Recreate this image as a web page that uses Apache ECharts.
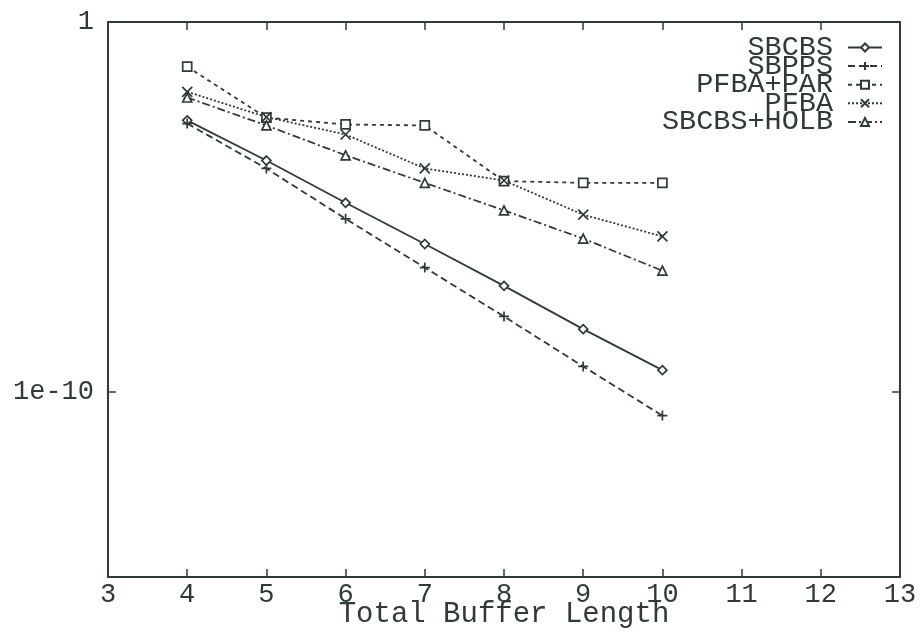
<!DOCTYPE html>
<html>
<head>
<meta charset="utf-8">
<script src="https://cdn.jsdelivr.net/npm/echarts@6/dist/echarts.min.js"></script>
<style>html,body{margin:0;padding:0;background:#fff;}#c{width:921px;height:632px;}</style>
</head>
<body>
<div id="c"></div>
<script>
const xValues = [4, 5, 6, 7, 8, 9, 10];
const seriesNames = ['SBCBS', 'SBPPS', 'PFBA+PAR', 'PFBA', 'SBCBS+HOLB'];
const sbcbs = [2.2e-3, 1.8e-4, 1.3e-5, 1.0e-6, 7.4e-8, 5.0e-9, 3.9e-10];
const sbpps = [1.8e-3, 1.1e-4, 4.8e-6, 2.3e-7, 1.1e-8, 4.9e-10, 2.3e-11];
const pfbaPar = [6.2e-2, 2.6e-3, 1.7e-3, 1.6e-3, 5.0e-5, 4.5e-5, 4.5e-5];
const pfba = [1.3e-2, 2.7e-3, 9.1e-4, 1.1e-4, 5.2e-5, 6.2e-6, 1.6e-6];
const sbcbsHolb = [9.1e-3, 1.6e-3, 2.5e-4, 4.5e-5, 8.1e-6, 1.4e-6, 1.9e-7];
const xTicks = [3, 4, 5, 6, 7, 8, 9, 10, 11, 12, 13];
const yTickLabels = [1e-10, 1];

const ink = '#2f3b34';
const font = '"Liberation Mono", "DejaVu Sans Mono", monospace';
const pair = arr => arr.map((v, i) => [xValues[i], v]);

const plusPath = 'path://M5,0L5,10M0,5L10,5';
const crossPath = 'path://M0,0L10,10M10,0L0,10';

function mk(name, data, symbol, dash, size) {
  return {
    name, type: 'line', data: pair(data), symbol, symbolSize: size,
    showSymbol: true, animation: false,
    lineStyle: { color: ink, width: 1.8, type: dash },
    itemStyle: { color: '#fff', borderColor: ink, borderWidth: 1.7 }
  };
}

const chart = echarts.init(document.getElementById('c'), null, { renderer: 'canvas' });
chart.setOption({
  backgroundColor: '#fff',
  animation: false,
  grid: { left: 108, right: 21, top: 22, bottom: 55, containLabel: false, outerBoundsMode: 'none' },
  legend: {
    orient: 'vertical', right: 38, top: 33, align: 'right', padding: 0,
    itemWidth: 34, itemHeight: 10, itemGap: -10.4,
    data: seriesNames,
    textStyle: { fontFamily: font, fontSize: 28.5, color: ink, padding: [0, 10, 0, 0] },
    inactiveColor: ink
  },
  xAxis: [{
    type: 'value', min: 3, max: 13, interval: 1, position: 'bottom',
    name: 'Total Buffer Length', nameLocation: 'middle', nameGap: 23, nameMoveOverlap: false,
    nameTextStyle: { fontFamily: font, fontSize: 29, color: ink },
    axisLine: { show: true, lineStyle: { color: ink, width: 2 } },
    axisTick: { show: true, inside: true, length: 8, lineStyle: { color: ink, width: 1.5 } },
    axisLabel: { fontFamily: font, fontSize: 27, color: ink, margin: 4,
      formatter: v => xTicks.includes(v) ? String(v) : '' },
    splitLine: { show: false }
  }, {
    type: 'value', min: 3, max: 13, interval: 1, position: 'top',
    axisLine: { show: true, lineStyle: { color: ink, width: 2 } },
    axisTick: { show: true, inside: true, length: 8, lineStyle: { color: ink, width: 1.5 } },
    axisLabel: { show: false }, splitLine: { show: false }
  }],
  yAxis: [{
    type: 'log', logBase: 10, min: 1e-15, max: 1, position: 'left',
    axisLine: { show: true, lineStyle: { color: ink, width: 2 } },
    axisTick: { show: true, inside: true, length: 8, lineStyle: { color: ink, width: 1.5 },
      customValues: yTickLabels },
    axisLabel: { fontFamily: font, fontSize: 27, color: ink, margin: 14,
      customValues: yTickLabels,
      formatter: v => (Math.abs(v - 1) < 1e-9 ? '1' : '1e-10') },
    splitLine: { show: false }, minorTick: { show: false }
  }, {
    type: 'log', logBase: 10, min: 1e-15, max: 1, position: 'right',
    axisLine: { show: true, lineStyle: { color: ink, width: 2 } },
    axisTick: { show: true, inside: true, length: 8, lineStyle: { color: ink, width: 1.5 },
      customValues: yTickLabels },
    axisLabel: { show: false }, splitLine: { show: false }
  }],
  series: [
    mk('SBCBS', sbcbs, 'diamond', 'solid', 9),
    mk('SBPPS', sbpps, plusPath, [7, 4], 10),
    mk('PFBA+PAR', pfbaPar, 'rect', [4, 4], 9),
    mk('PFBA', pfba, crossPath, [2, 2], 10),
    mk('SBCBS+HOLB', sbcbsHolb, 'triangle', [8, 3, 2, 3], 9)
  ]
});
</script>
</body>
</html>
